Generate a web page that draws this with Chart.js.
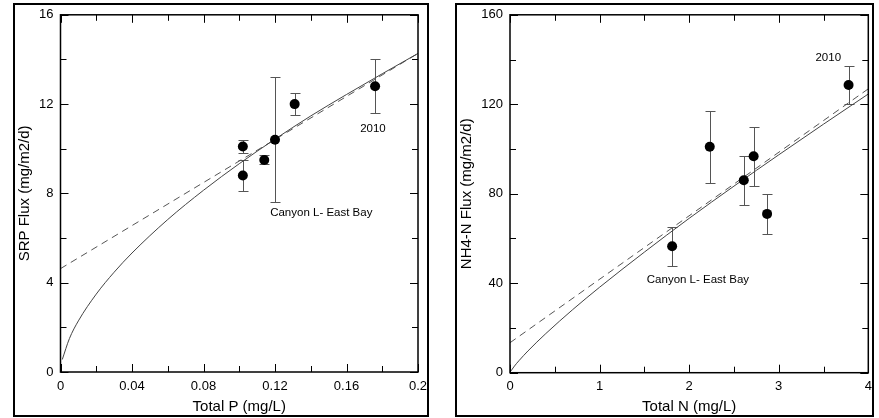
<!DOCTYPE html>
<html><head><meta charset="utf-8">
<script src="https://cdn.jsdelivr.net/npm/chart.js@4"></script>
<style>
html,body{margin:0;padding:0;background:#fff;width:879px;height:418px;overflow:hidden;}
.frame{position:absolute;border:2px solid #000;box-sizing:border-box;}
canvas{position:absolute;top:0;}
</style></head><body>
<div class="frame" style="left:13px;top:3px;width:416px;height:414px"></div>
<div class="frame" style="left:455px;top:3px;width:419px;height:414px"></div>
<canvas id="c1" width="440" height="418" style="left:0"></canvas>
<canvas id="c2" width="439" height="418" style="left:440px"></canvas>
<script>
// ---- Left panel: Total P vs SRP flux ----
const pX = [0.102, 0.102, 0.114, 0.120, 0.131, 0.176];
const pY = [10.1, 8.8, 9.5, 10.4, 12.0, 12.8];
const pErr = [0.3, 0.7, 0.2, 2.8, 0.5, 1.2];
const pFitX = [0.001, 0.005, 0.01, 0.02, 0.03, 0.04, 0.06, 0.08, 0.1, 0.12, 0.14, 0.16, 0.18, 0.2];
const pFitY = [0.56, 1.5, 2.29, 3.49, 4.47, 5.33, 6.83, 8.14, 9.33, 10.43, 11.47, 12.43, 13.36, 14.27];
const pLinX = [0, 0.2];
const pLinY = [4.63, 14.27];
const pXTickLabels = ['0', '0.04', '0.08', '0.12', '0.16', '0.2'];
const pYTickLabels = ['0', '4', '8', '12', '16'];
const pXMinor = [0.02, 0.06, 0.10, 0.14, 0.18];
const pYMinor = [2, 6, 10, 14];
const pNoteText = ['2010', 'Canyon L- East Bay'];
const pNoteX = [0.1748, 0.1459];
const pNoteY = [10.9, 7.12];

// ---- Right panel: Total N vs NH4-N flux ----
const nX = [1.81, 2.23, 2.61, 2.72, 2.87, 3.78];
const nY = [56.5, 101, 86, 96.8, 71, 128.6];
const nErr = [8.6, 16, 11, 13.2, 9, 8.7];
const nFitX = [0.01, 0.05, 0.1, 0.2, 0.4, 0.7, 1, 1.5, 2, 2.5, 3, 3.5, 4];
const nFitY = [0.76, 2.98, 5.37, 9.7, 17.5, 28.2, 38.2, 53.9, 69.0, 83.4, 97.4, 111.1, 124.6];
const nLinX = [0, 4];
const nLinY = [13.4, 126.9];
const nXTickLabels = ['0', '1', '2', '3', '4'];
const nYTickLabels = ['0', '40', '80', '120', '160'];
const nXMinor = [0.5, 1.5, 2.5, 3.5];
const nYMinor = [20, 60, 100, 140];
const nNoteText = ['2010', 'Canyon L- East Bay'];
const nNoteX = [3.553, 2.098];
const nNoteY = [140.9, 41.3];

Chart.defaults.font.family = "'Liberation Sans', Arial, sans-serif";
Chart.defaults.color = '#000';

function pts(xs, ys) { return xs.map((x, i) => ({x: x, y: ys[i]})); }

function decoPlugin(c) {
  return {
    id: 'deco',
    beforeDatasetsDraw(chart) {
      const ctx = chart.ctx, xs = chart.scales.x, ys = chart.scales.y;
      ctx.save();
      ctx.strokeStyle = '#555';
      ctx.lineWidth = 1;
      for (let i = 0; i < c.ex.length; i++) {
        const px = Math.round(xs.getPixelForValue(c.ex[i])) + 0.5;
        const t = Math.round(ys.getPixelForValue(c.ey[i] + c.ee[i])) + 0.5;
        const b = Math.round(ys.getPixelForValue(c.ey[i] - c.ee[i])) + 0.5;
        ctx.beginPath();
        ctx.moveTo(px, t); ctx.lineTo(px, b);
        ctx.moveTo(px - 5, t); ctx.lineTo(px + 5, t);
        ctx.moveTo(px - 5, b); ctx.lineTo(px + 5, b);
        ctx.stroke();
      }
      ctx.restore();
    },
    afterDatasetsDraw(chart) {
      const ctx = chart.ctx, xs = chart.scales.x, ys = chart.scales.y;
      const a = chart.chartArea;
      ctx.save();
      ctx.strokeStyle = '#000';
      ctx.lineWidth = 1.5;
      ctx.strokeRect(a.left, a.top, a.right - a.left, a.bottom - a.top);
      ctx.lineWidth = 1;
      ctx.beginPath();
      const xt = (v, len) => {
        const px = Math.round(xs.getPixelForValue(v)) + 0.5;
        ctx.moveTo(px, a.bottom); ctx.lineTo(px, a.bottom - len);
        ctx.moveTo(px, a.top); ctx.lineTo(px, a.top + len);
      };
      const yt = (v, len) => {
        const py = Math.round(ys.getPixelForValue(v)) + 0.5;
        ctx.moveTo(a.left, py); ctx.lineTo(a.left + len, py);
        ctx.moveTo(a.right, py); ctx.lineTo(a.right - len, py);
      };
      xs.ticks.forEach(t => xt(t.value, 8));
      ys.ticks.forEach(t => yt(t.value, 8));
      c.mx.forEach(v => xt(v, 6));
      c.my.forEach(v => yt(v, 6));
      ctx.stroke();
      ctx.fillStyle = '#000';
      ctx.font = "11.5px 'Liberation Sans', Arial, sans-serif";
      ctx.textAlign = 'center';
      ctx.textBaseline = 'middle';
      for (let i = 0; i < c.nt.length; i++) {
        ctx.fillText(c.nt[i], xs.getPixelForValue(c.nx[i]), ys.getPixelForValue(c.ny[i]));
      }
      ctx.restore();
    }
  };
}

function makeChart(id, d) {
  return new Chart(document.getElementById(id), {
    type: 'scatter',
    data: {
      datasets: [
        {data: pts(d.x, d.y), pointRadius: 5, pointHoverRadius: 5, backgroundColor: '#000', borderColor: '#000', borderWidth: 0, showLine: false},
        {data: pts(d.fx, d.fy), showLine: true, pointRadius: 0, borderColor: '#444', borderWidth: 1, cubicInterpolationMode: 'monotone', fill: false},
        {data: pts(d.lx, d.ly), showLine: true, pointRadius: 0, borderColor: '#555', borderWidth: 1, borderDash: [7, 5], fill: false}
      ]
    },
    options: {
      responsive: false,
      animation: false,
      devicePixelRatio: 1,
      layout: {padding: {top: 14, right: d.padRight, left: 0, bottom: 0}},
      plugins: {legend: {display: false}, tooltip: {enabled: false}},
      scales: {
        x: {
          type: 'linear', min: d.xmin, max: d.xmax,
          grid: {display: false, drawTicks: false},
          border: {display: false},
          ticks: {stepSize: d.xstep, padding: d.xpad, maxRotation: 0, autoSkip: false,
                  font: {size: 13}, color: '#000',
                  callback: (v, i) => d.xl[i]},
          title: {display: true, text: d.xtitle, font: {size: 15}, color: '#000', padding: {top: 0, bottom: d.xtPad}},
          afterFit: s => { s.height = d.xh; }
        },
        y: {
          type: 'linear', min: d.ymin, max: d.ymax,
          grid: {display: false, drawTicks: false},
          border: {display: false},
          ticks: {stepSize: d.ystep, padding: 7, font: {size: 13}, color: '#000',
                  callback: (v, i) => d.yl[i]},
          title: {display: true, text: d.ytitle, font: {size: 15}, color: '#000', padding: {top: d.ytPad, bottom: 0}},
          afterFit: s => { s.width = d.yw; }
        }
      }
    },
    plugins: [decoPlugin({ex: d.x, ey: d.y, ee: d.e, mx: d.mx, my: d.my, nt: d.nt, nx: d.nx, ny: d.ny})]
  });
}

makeChart('c1', {
  x: pX, y: pY, e: pErr, fx: pFitX, fy: pFitY, lx: pLinX, ly: pLinY,
  xl: pXTickLabels, yl: pYTickLabels, mx: pXMinor, my: pYMinor,
  nt: pNoteText, nx: pNoteX, ny: pNoteY,
  xmin: 0, xmax: 0.2, xstep: 0.04, ymin: 0, ymax: 16, ystep: 4,
  xtitle: 'Total P (mg/L)', ytitle: 'SRP Flux (mg/m2/d)',
  padRight: 22, xh: 46, yw: 60.5, xpad: 7, xtPad: 2.3, ytPad: 16
});

makeChart('c2', {
  x: nX, y: nY, e: nErr, fx: nFitX, fy: nFitY, lx: nLinX, ly: nLinY,
  xl: nXTickLabels, yl: nYTickLabels, mx: nXMinor, my: nYMinor,
  nt: nNoteText, nx: nNoteX, ny: nNoteY,
  xmin: 0, xmax: 4, xstep: 1, ymin: 0, ymax: 160, ystep: 40,
  xtitle: 'Total N (mg/L)', ytitle: 'NH4-N Flux (mg/m2/d)',
  padRight: 10.7, xh: 45.3, yw: 70, xpad: 6, xtPad: 1.7, ytPad: 17.7
});
</script>
</body></html>
